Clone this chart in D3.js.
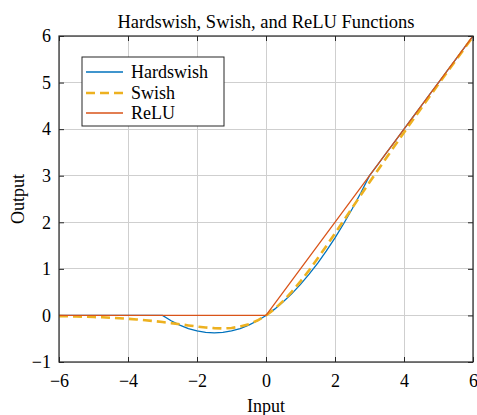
<!DOCTYPE html>
<html>
<head>
<meta charset="utf-8">
<script src="https://cdn.jsdelivr.net/npm/d3@7"></script>
<style>
  body { margin: 0; background: #fff; }
  svg { display: block; }
  svg text { font-family: "Liberation Serif", "Times New Roman", serif; }
</style>
</head>
<body>
<svg id="chart" width="477" height="415"></svg>
<script>
const titleText = "Hardswish, Swish, and ReLU Functions";
const xLabel = "Input";
const yLabel = "Output";
const xTicks = [-6, -4, -2, 0, 2, 4, 6];
const yTicks = [-1, 0, 1, 2, 3, 4, 5, 6];

const xs = [-6,-5.75,-5.5,-5.25,-5,-4.75,-4.5,-4.25,-4,-3.75,-3.5,-3.25,-3,-2.75,-2.5,-2.25,-2,-1.75,-1.5,-1.25,-1,-0.75,-0.5,-0.25,0,0.25,0.5,0.75,1,1.25,1.5,1.75,2,2.25,2.5,2.75,3,3.25,3.5,3.75,4,4.25,4.5,4.75,5,5.25,5.5,5.75,6];
const hardswish = [0,0,0,0,0,0,0,0,0,0,0,0,0,-0.1146,-0.2083,-0.2813,-0.3333,-0.3646,-0.375,-0.3646,-0.3333,-0.2813,-0.2083,-0.1146,0,0.1354,0.2917,0.4688,0.6667,0.8854,1.125,1.3854,1.6667,1.9688,2.2917,2.6354,3,3.25,3.5,3.75,4,4.25,4.5,4.75,5,5.25,5.5,5.75,6];
const swish = [-0.0148,-0.0182,-0.0224,-0.0274,-0.0335,-0.0407,-0.0494,-0.0598,-0.0719,-0.0862,-0.1026,-0.1213,-0.1423,-0.1652,-0.1897,-0.2145,-0.2384,-0.2591,-0.2736,-0.2784,-0.2689,-0.2406,-0.1888,-0.1095,0,0.1405,0.3112,0.5094,0.7311,0.9716,1.2264,1.4909,1.7616,2.0355,2.3104,2.5848,2.8577,3.1287,3.3974,3.6638,3.9281,4.1902,4.4506,4.7093,4.9665,5.2226,5.4776,5.7318,5.9852];
const reluX = [-6, 0, 6];
const relu = [0, 0, 6];

const seriesNames = ["Hardswish", "Swish", "ReLU"];
const colors = ["#0072BD", "#EDB120", "#D95319"];

const svg = d3.select("#chart");
const L = 59, R = 473, T = 36, B = 362;
const x = d3.scaleLinear().domain([-6, 6]).range([L, R]);
const y = d3.scaleLinear().domain([-1, 6]).range([B, T]);
const axisColor = "#262626";
const fontSize = 18;

// grid
svg.append("g").selectAll("line").data(xTicks).join("line")
  .attr("x1", d => x(d)).attr("x2", d => x(d)).attr("y1", T).attr("y2", B)
  .attr("stroke", "#cfcfcf").attr("stroke-width", 1).attr("shape-rendering", "crispEdges");
svg.append("g").selectAll("line").data(yTicks).join("line")
  .attr("x1", L).attr("x2", R).attr("y1", d => y(d)).attr("y2", d => y(d))
  .attr("stroke", "#cfcfcf").attr("stroke-width", 1).attr("shape-rendering", "crispEdges");

// axes (ticks inward)
const fmt = d => d < 0 ? "\u2212" + Math.abs(d) : String(d);
const styleAxis = g => {
  g.attr("font-family", null).attr("font-size", null);
  g.select(".domain").remove();
  g.selectAll(".tick line").attr("stroke", axisColor);
  g.selectAll(".tick text").attr("fill", "#000").style("font-size", fontSize + "px");
};
svg.append("g").attr("transform", `translate(0,${B})`)
  .call(d3.axisBottom(x).tickValues(xTicks).tickFormat(fmt).tickSizeInner(-5).tickSizeOuter(0).tickPadding(12))
  .call(styleAxis);
svg.append("g").attr("transform", `translate(${L},0)`)
  .call(d3.axisLeft(y).tickValues(yTicks).tickFormat(fmt).tickSizeInner(-5).tickSizeOuter(0).tickPadding(8))
  .call(styleAxis);
svg.append("g").attr("transform", `translate(0,${T})`)
  .call(d3.axisTop(x).tickValues(xTicks).tickFormat("").tickSizeInner(-5).tickSizeOuter(0))
  .call(styleAxis);
svg.append("g").attr("transform", `translate(${R},0)`)
  .call(d3.axisRight(y).tickValues(yTicks).tickFormat("").tickSizeInner(-5).tickSizeOuter(0))
  .call(styleAxis);

// lines
const line = d3.line().x(d => x(d[0])).y(d => y(d[1]));
svg.append("clipPath").attr("id", "clip").append("rect")
  .attr("x", L).attr("y", T).attr("width", R - L).attr("height", B - T);
const plotG = svg.append("g").attr("clip-path", "url(#clip)");
plotG.append("path").datum(d3.zip(xs, hardswish)).attr("d", line)
  .attr("fill", "none").attr("stroke", colors[0]).attr("stroke-width", 1.3);
plotG.append("path").datum(d3.zip(xs, swish)).attr("d", line)
  .attr("fill", "none").attr("stroke", colors[1]).attr("stroke-width", 2.6)
  .attr("stroke-dasharray", "9,5");
plotG.append("path").datum(d3.zip(reluX, relu)).attr("d", line)
  .attr("fill", "none").attr("stroke", colors[2]).attr("stroke-width", 1.3);

// box
svg.append("rect").attr("x", L).attr("y", T).attr("width", R - L).attr("height", B - T)
  .attr("fill", "none").attr("stroke", axisColor).attr("stroke-width", 1.2);

// title & labels
svg.append("text").attr("x", (L + R) / 2).attr("y", 28).attr("text-anchor", "middle")
  .style("font-size", "18.5px").text(titleText);
svg.append("text").attr("x", (L + R) / 2).attr("y", 412).attr("text-anchor", "middle")
  .style("font-size", fontSize + "px").text(xLabel);
svg.append("text").attr("transform", `translate(24,${(T + B) / 2}) rotate(-90)`)
  .attr("text-anchor", "middle").style("font-size", fontSize + "px").text(yLabel);

// legend
const lg = svg.append("g");
lg.append("rect").attr("x", 82).attr("y", 57).attr("width", 142).attr("height", 69)
  .attr("fill", "#fff").attr("stroke", axisColor).attr("stroke-width", 1);
const rows = [72, 93, 113];
seriesNames.forEach((name, i) => {
  lg.append("line").attr("x1", 86).attr("x2", 123).attr("y1", rows[i]).attr("y2", rows[i])
    .attr("stroke", colors[i]).attr("stroke-width", i === 1 ? 2.6 : 1.3)
    .attr("stroke-dasharray", i === 1 ? "9,5" : null);
  lg.append("text").attr("x", 131).attr("y", rows[i]).attr("dy", "0.33em")
    .style("font-size", fontSize + "px").text(name);
});
</script>
</body>
</html>
